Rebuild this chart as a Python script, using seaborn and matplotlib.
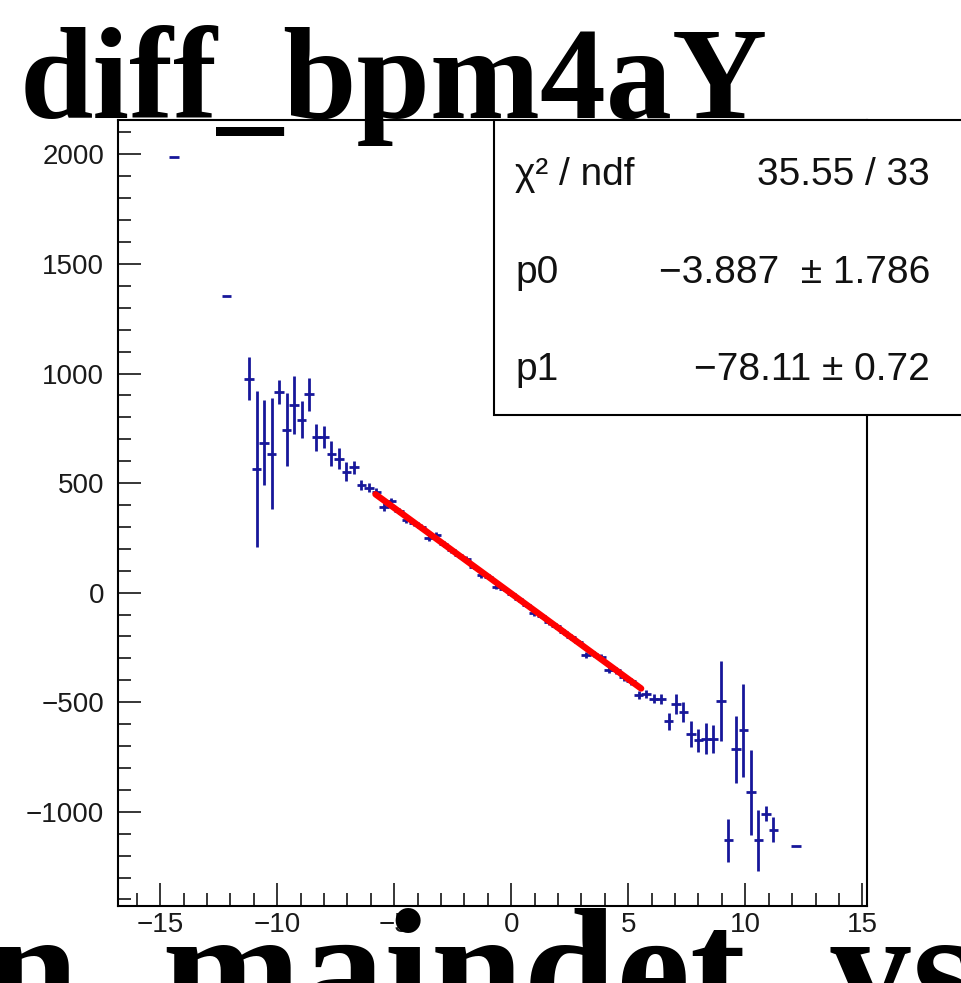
import numpy as np
import pandas as pd
import matplotlib
matplotlib.use("Agg")
import matplotlib.pyplot as plt
from matplotlib.ticker import MultipleLocator
from matplotlib.patches import Rectangle
import seaborn as sns

# ---------------- data ----------------
x_centers = [-14.40, -12.16, -11.20, -10.88, -10.56, -10.24, -9.92, -9.60, -9.28, -8.96,
             -8.64, -8.32, -8.00, -7.68, -7.36, -7.04, -6.72, -6.40, -6.08, -5.76,
             -5.44, -5.12, -4.80, -4.48, -4.16, -3.84, -3.52, -3.20, -2.88, -2.56,
             -2.24, -1.92, -1.60, -1.28, -0.96, -0.64, -0.32, 0.00, 0.32, 0.64,
             0.96, 1.28, 1.60, 1.92, 2.24, 2.56, 2.88, 3.20, 3.52, 3.84,
             4.16, 4.48, 4.80, 5.12, 5.44, 5.76, 6.08, 6.40, 6.72, 7.04,
             7.36, 7.68, 8.00, 8.32, 8.64, 8.96, 9.28, 9.60, 9.92, 10.24,
             10.56, 10.88, 11.20, 12.16]
y_means = [1986, 1353, 977, 563, 685, 635, 916, 744, 855, 790,
           905, 709, 709, 635, 612, 552, 573, 490, 479, 459,
           392, 418, 372, 332, 318, 298, 250, 262, 222, 195,
           170, 155, 118, 80, 72, 28, 18, -5, -30, -55,
           -95, -105, -135, -152, -180, -203, -227, -286, -278, -294,
           -352, -355, -385, -405, -468, -461, -484, -484, -588, -507,
           -545, -644, -674, -667, -667, -496, -1131, -715, -629, -910,
           -1131, -1009, -1082, -1154]
y_errs = [0, 0, 100, 355, 192, 253, 53, 167, 133, 84,
          76, 61, 51, 57, 46, 42, 30, 22, 20, 18,
          18, 16, 15, 15, 14, 14, 13, 13, 12, 12,
          12, 12, 11, 11, 11, 11, 11, 11, 11, 11,
          11, 12, 12, 12, 12, 13, 13, 14, 14, 14,
          15, 15, 16, 17, 18, 19, 20, 22, 38, 46,
          46, 59, 52, 71, 63, 183, 97, 152, 212, 194,
          137, 34, 57, 0]
bin_half_width = 0.2

fit_p0 = -3.887
fit_p1 = -78.11
fit_range = [-5.8, 5.55]

stat_labels = ["\u03c7\u00b2 / ndf", "p0", "p1"]
stat_values = ["35.55 / 33", "\u22123.887  \u00b1 1.786", "\u221278.11 \u00b1 0.72"]

title_text = "diff_bpm4aY"
xlabel_text = "mean_maindet_ysum"

# ---------------- figure ----------------
sns.set_theme(style="ticks")
plt.rcParams["font.family"] = ["Liberation Sans", "DejaVu Sans"]

W, H = 961, 983
fig = plt.figure(figsize=(W / 100, H / 100), dpi=100, facecolor="white")
ax = fig.add_axes([118 / W, 1 - 906 / H, (867 - 118) / W, (906 - 120) / H])
ax.set_facecolor("white")

df = pd.DataFrame({"x": x_centers, "y": y_means, "err": y_errs})
ax.errorbar(df["x"], df["y"], xerr=bin_half_width, yerr=df["err"], fmt="none",
            ecolor="#17179a", elinewidth=2.0, capsize=0, zorder=2)

fx = np.array(fit_range)
fit_df = pd.DataFrame({"x": fx, "y": fit_p0 + fit_p1 * fx})
sns.lineplot(data=fit_df, x="x", y="y", color="#ff0000", linewidth=4.6, ax=ax,
             zorder=3, legend=False)

ax.set_xlim(-16.8, 15.2)
ax.set_ylim(-1430, 2157)
ax.xaxis.set_major_locator(MultipleLocator(5))
ax.xaxis.set_minor_locator(MultipleLocator(1))
ax.yaxis.set_major_locator(MultipleLocator(500))
ax.yaxis.set_minor_locator(MultipleLocator(100))
ax.tick_params(which="both", direction="in", top=False, right=False,
               color="black", width=1.1)
ax.tick_params(which="major", length=16.5)
ax.tick_params(which="minor", length=9.5)
ax.tick_params(axis="y", which="major", labelsize=20, pad=10, labelcolor="#1a1a1a")
ax.tick_params(axis="x", which="major", labelsize=20, pad=4, labelcolor="#1a1a1a")
ax.set_xlabel("")
ax.set_ylabel("")
for s in ax.spines.values():
    s.set_color("black")
    s.set_linewidth(1.5)
    s.set_visible(True)

# stats box
box = Rectangle((494 / W, 1 - 415 / H), (1000 - 494) / W, (415 - 120) / H,
                transform=fig.transFigure, facecolor="white", edgecolor="black",
                linewidth=1.5, zorder=5)
fig.add_artist(box)
baselines = [185, 283, 380]
for lab, val, b in zip(stat_labels, stat_values, baselines):
    fig.text(515 / W, 1 - b / H, lab, fontsize=28, ha="left", va="baseline",
             color="#111111", zorder=6)
    fig.text(930 / W, 1 - b / H, val, fontsize=28, ha="right", va="baseline",
             color="#111111", zorder=6)

# title and x-axis title (large serif bold, overlapping the frame)
fig.text(20 / W, 1 - 118 / H, title_text, fontsize=95, fontweight="bold",
         family=["Liberation Serif", "DejaVu Serif"], ha="left", va="baseline",
         color="black", zorder=7)
fig.text(450 / W, 1 - 1024 / H, xlabel_text, fontsize=120, fontweight="bold",
         family=["Liberation Serif", "DejaVu Serif"], ha="center", va="baseline",
         color="black", zorder=7)

fig.savefig("out.png", dpi=100, facecolor="white")
